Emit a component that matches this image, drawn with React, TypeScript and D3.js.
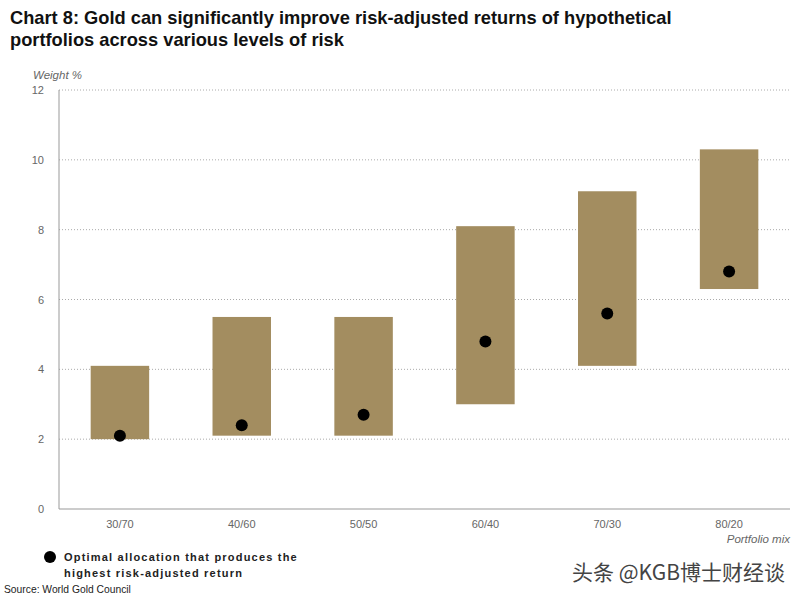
import React from "react";
import * as d3 from "d3";

const categories = ["30/70", "40/60", "50/50", "60/40", "70/30", "80/20"];
const lowValues = [2.0, 2.1, 2.1, 3.0, 4.1, 6.3];
const highValues = [4.1, 5.5, 5.5, 8.1, 9.1, 10.3];
const optimalValues = [2.1, 2.4, 2.7, 4.8, 5.6, 6.8];
const yTicks = [0, 2, 4, 6, 8, 10, 12];

const W = 800;
const H = 600;
const left = 59;
const right = 790;
const top = 90;
const bottom = 509;

export default function App() {
  const x = d3.scaleBand<string>().domain(categories).range([left, right]).paddingInner(0.52).paddingOuter(0.26);
  const y = d3.scaleLinear().domain([0, 12]).range([bottom, top]);
  const font = "'Liberation Sans', Arial, sans-serif";
  return (
    <svg width={W} height={H} style={{ position: "absolute", left: 0, top: 0, background: "#fff" }}>
      <g transform="translate(10,0) scale(0.962,1)">
        <text x={0} y={24} fontFamily={font} fontWeight="bold" fontSize={19} fill="#111">
          Chart 8: Gold can significantly improve risk-adjusted returns of hypothetical
        </text>
        <text x={0} y={46} fontFamily={font} fontWeight="bold" fontSize={19} fill="#111">
          portfolios across various levels of risk
        </text>
      </g>
      <text x={33} y={79} fontFamily={font} fontStyle="italic" fontSize={11.5} fill="#666">Weight %</text>
      {yTicks.map((t) => (
        <g key={t}>
          {t > 0 && (
            <line x1={left} x2={right} y1={y(t)} y2={y(t)} stroke="#aaa" strokeWidth={1} strokeDasharray="1,2" />
          )}
          <text x={44} y={y(t) + 4} textAnchor="end" fontFamily={font} fontSize={11} fill="#666">{t}</text>
        </g>
      ))}
      <line x1={left} x2={left} y1={top} y2={bottom} stroke="#999" strokeWidth={1} />
      <line x1={left} x2={right} y1={bottom} y2={bottom} stroke="#999" strokeWidth={1} />
      {categories.map((c, i) => (
        <g key={c}>
          <rect x={x(c)} y={y(highValues[i])} width={x.bandwidth()} height={y(lowValues[i]) - y(highValues[i])} fill="#A38D60" />
          <circle cx={(x(c) as number) + x.bandwidth() / 2} cy={y(optimalValues[i])} r={6} fill="#000" />
          <text x={(x(c) as number) + x.bandwidth() / 2} y={528} textAnchor="middle" fontFamily={font} fontSize={11} fill="#666">{c}</text>
        </g>
      ))}
      <text x={790} y={543} textAnchor="end" fontFamily={font} fontStyle="italic" fontSize={11.5} fill="#666">Portfolio mix</text>
      <circle cx={50} cy={557} r={6} fill="#000" />
      <text x={64} y={561} fontFamily={font} fontWeight="bold" fontSize={11} letterSpacing={1.2} fill="#222">Optimal allocation that produces the</text>
      <text x={64} y={577} fontFamily={font} fontWeight="bold" fontSize={11} letterSpacing={1.2} fill="#222">highest risk-adjusted return</text>
      <text x={4} y={593} fontFamily={font} fontSize={10.3} fill="#222">Source: World Gold Council</text>
      <text x={785} y={580} textAnchor="end" fontFamily="'Noto Sans CJK SC', sans-serif" fontSize={21} fill="#444">头条 @KGB博士财经谈</text>
    </svg>
  );
}
